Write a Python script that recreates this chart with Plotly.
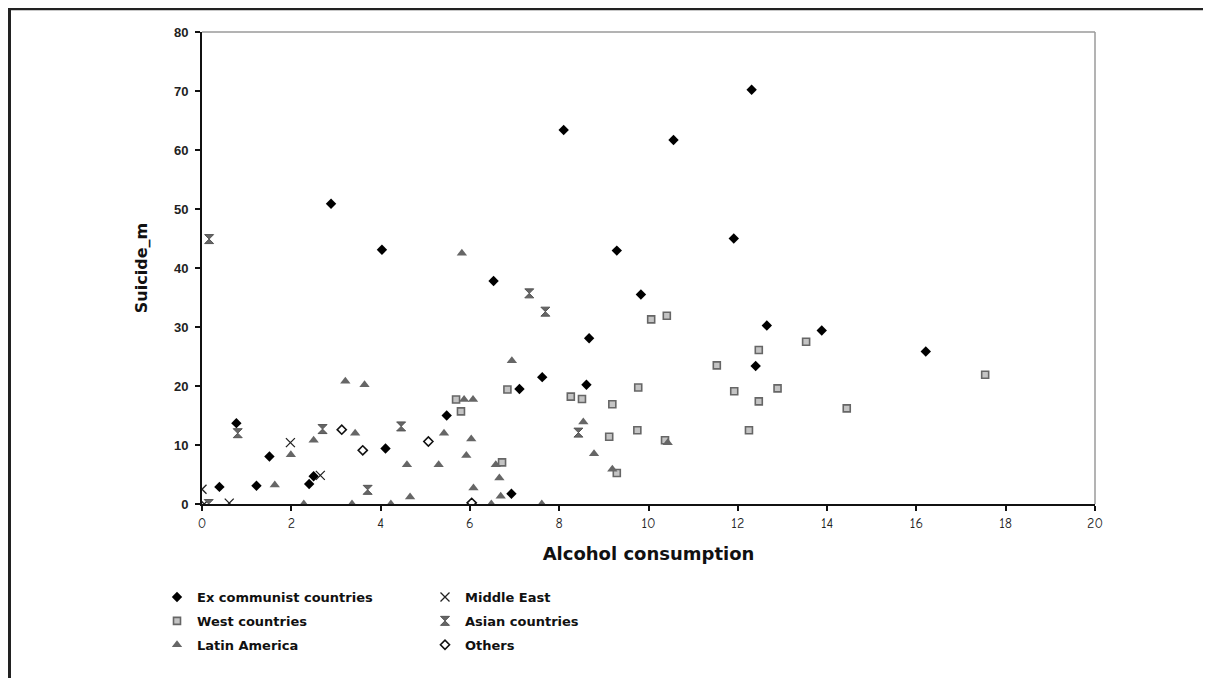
import plotly.graph_objects as go

# ---- data ----
ex_comm_x = [0.39, 0.77, 1.22, 1.51, 2.40, 2.50, 2.89, 4.03, 4.11, 5.48, 6.53, 6.93, 7.11, 7.62, 8.10,
             8.61, 8.67, 9.29, 9.83, 10.56, 11.91, 12.31, 12.40, 12.65, 13.88, 16.21]
ex_comm_y = [2.9, 13.7, 3.1, 8.06, 3.4, 4.7, 50.9, 43.1, 9.4, 15.0, 37.8, 1.74, 19.5, 21.5, 63.4,
             20.2, 28.1, 42.95, 35.5, 61.7, 45.0, 70.2, 23.4, 30.25, 29.4, 25.85]

west_x = [5.69, 5.80, 6.72, 6.84, 8.26, 8.51, 9.12, 9.19, 9.29, 9.75, 9.77, 10.06, 10.37, 10.41,
          11.53, 11.92, 12.25, 12.47, 12.47, 12.89, 13.53, 14.44, 17.54]
west_y = [17.7, 15.7, 7.05, 19.4, 18.2, 17.8, 11.4, 16.9, 5.25, 12.5, 19.75, 31.3, 10.8, 31.9,
          23.5, 19.1, 12.5, 26.1, 17.4, 19.6, 27.5, 16.2, 21.9]

latin_x = [5.82, 3.21, 3.64, 2.50, 1.99, 1.63, 2.28, 3.36, 3.43, 4.23, 4.59, 4.66, 5.30, 5.42, 5.92,
           5.87, 6.07, 6.03, 6.08, 6.48, 6.58, 6.66, 6.69, 7.61, 6.94, 8.54, 8.78, 9.19, 10.43]
latin_y = [42.5, 20.8, 20.2, 10.8, 8.35, 3.2, 0.0, 0.0, 12.0, 0.0, 6.65, 1.2, 6.65, 12.0, 8.2,
           17.7, 17.7, 11.0, 2.7, 0.0, 6.65, 4.4, 1.3, 0.0, 24.3, 13.9, 8.5, 5.9, 10.4]

mideast_x = [0.0, 0.05, 0.61, 1.98, 2.65]
mideast_y = [2.5, 0.0, 0.15, 10.4, 4.85]

asian_x = [0.16, 0.15, 0.80, 2.70, 3.71, 4.46, 7.33, 7.69, 8.43]
asian_y = [44.9, 0.0, 12.0, 12.7, 2.4, 13.15, 35.7, 32.6, 12.1]

others_x = [3.13, 3.60, 5.07, 6.04]
others_y = [12.6, 9.1, 10.6, 0.2]

x_ticks = [0, 2, 4, 6, 8, 10, 12, 14, 16, 18, 20]
y_ticks = [0, 10, 20, 30, 40, 50, 60, 70, 80]

COMIC = "Comic Sans MS, Comic Neue, Lato, sans-serif"
HEAVY = "DejaVu Sans, Comic Sans MS, sans-serif"
ARIAL = "Liberation Sans, Arial, sans-serif"

fig = go.Figure()

fig.add_trace(go.Scatter(x=ex_comm_x, y=ex_comm_y, mode="markers", name="<b>Ex communist countries</b>",
                         legendgroup="a", legend="legend",
                         marker=dict(symbol="diamond", size=8, color="#000000")))
fig.add_trace(go.Scatter(x=west_x, y=west_y, mode="markers", name="<b>West countries</b>",
                         legendgroup="b", legend="legend",
                         marker=dict(symbol="square", size=7, color="#c4c4c4",
                                     line=dict(color="#666666", width=1.6))))
fig.add_trace(go.Scatter(x=latin_x, y=latin_y, mode="markers", name="<b>Latin America</b>",
                         legendgroup="c", legend="legend",
                         marker=dict(symbol="triangle-up", size=9, color="#666666")))
fig.add_trace(go.Scatter(x=mideast_x, y=mideast_y, mode="markers", name="<b>Middle East</b>",
                         legendgroup="d", legend="legend2",
                         marker=dict(symbol="x-thin", size=9, color="#222222",
                                     line=dict(color="#222222", width=1.3))))
fig.add_trace(go.Scatter(x=asian_x, y=asian_y, mode="markers", name="<b>Asian countries</b>",
                         legendgroup="e", legend="legend2",
                         marker=dict(symbol="hourglass", size=9, color="#666666",
                                     line=dict(color="#555555", width=1))))
fig.add_trace(go.Scatter(x=others_x, y=others_y, mode="markers", name="<b>Others</b>",
                         legendgroup="f", legend="legend2",
                         marker=dict(symbol="diamond-open", size=7, color="#111111",
                                     line=dict(color="#111111", width=1.6))))

# page is offset by the default 8px body margin; keep figure inside the window
OFF = 8
W, H = 1211 - 2 * OFF, 686 - 2 * OFF
L, T = 202 - OFF, 32 - OFF
R = W - (1095 - OFF)
B = H - (504 - OFF)
pw, ph = W - L - R, H - T - B

def px_x(p):
    return (p - OFF - L) / pw

def px_y(p):
    return (H - B - (p - OFF)) / ph

legend_common = dict(
    orientation="v", xanchor="left", yanchor="top",
    font=dict(family=HEAVY, size=13, color="#111111"),
    bgcolor="rgba(0,0,0,0)", itemwidth=30, tracegroupgap=4,
)

fig.update_layout(
    width=W, height=H,
    margin=dict(l=L, r=R, t=T, b=B),
    paper_bgcolor="white", plot_bgcolor="white",
    showlegend=True,
    legend=dict(x=px_x(157), y=px_y(582), **legend_common),
    legend2=dict(x=px_x(425), y=px_y(582), **legend_common),
    xaxis=dict(
        range=[0, 20], tickvals=x_ticks, ticktext=[str(v) for v in x_ticks],
        showgrid=False, zeroline=False, showline=True, linecolor="#111111", linewidth=2,
        ticks="outside", ticklen=5, tickwidth=1.5, tickcolor="#111111",
        tickfont=dict(family=COMIC, size=14, color="#222222"),
        title=dict(text="<b>Alcohol consumption</b>", font=dict(family=HEAVY, size=18, color="#111111"),
                   standoff=17),
    ),
    yaxis=dict(
        range=[0, 80], tickvals=y_ticks, ticktext=[f"<b>{v}</b>" for v in y_ticks],
        showgrid=False, zeroline=False, showline=True, linecolor="#111111", linewidth=2,
        ticks="outside", ticklen=5, tickwidth=1.5, tickcolor="#111111",
        ticklabelstandoff=4,
        tickfont=dict(family=ARIAL, size=13, color="#222222"),
        title=dict(text="<b>Suicide_m</b>", font=dict(family=HEAVY, size=16, color="#111111"),
                   standoff=22),
    ),
    shapes=[
        # gray top and right plot border
        dict(type="line", xref="x domain", yref="y domain", x0=0, x1=1, y0=1, y1=1,
             line=dict(color="#9a9a9a", width=1.5), layer="below"),
        dict(type="line", xref="x domain", yref="y domain", x0=1, x1=1, y0=0, y1=1,
             line=dict(color="#9a9a9a", width=1.5), layer="below"),
        # outer frame (top and left edges visible)
        dict(type="path", xref="paper", yref="paper",
             path=f"M {px_x(9.5)} {px_y(700)} L {px_x(9.5)} {px_y(8.8)} L {px_x(1230)} {px_y(8.8)}",
             line=dict(color="#222222", width=3)),
    ],
)

fig.write_html("out.html", config={"displayModeBar": False})
